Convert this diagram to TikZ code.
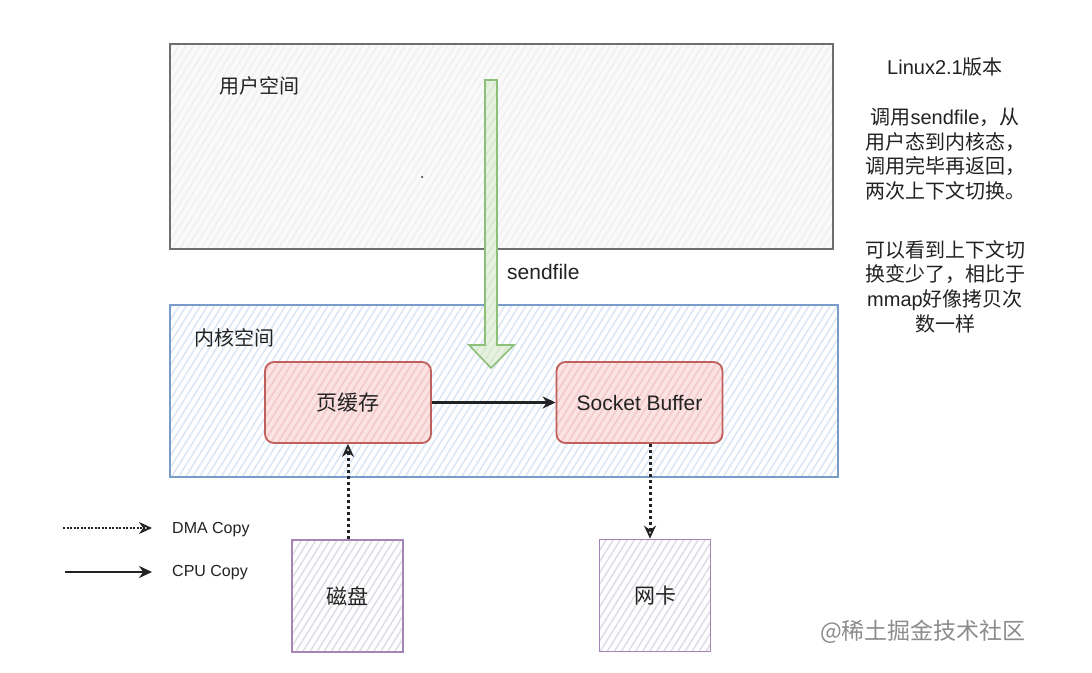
\documentclass[tikz,border=0pt]{standalone}
\usepackage{fontspec}
\setmainfont{Liberation Sans}
\newfontfamily\cjk{Noto Sans CJK SC}
\usetikzlibrary{arrows.meta,patterns.meta}
\definecolor{ustroke}{HTML}{6E6E6E}
\definecolor{ufill}{HTML}{FAFAFA}
\definecolor{uhatch}{HTML}{F1F1F1}
\definecolor{kstroke}{HTML}{7A9CC8}
\definecolor{khatch}{HTML}{DCE7F6}
\definecolor{rstroke}{HTML}{C0605C}
\definecolor{rfill}{HTML}{FBE3E3}
\definecolor{rhatch}{HTML}{F3C9C9}
\definecolor{pstroke}{HTML}{A486B6}
\definecolor{phatch}{HTML}{E0DEE6}
\definecolor{gstroke}{HTML}{8CC079}
\definecolor{gfill}{HTML}{E6F1E0}
\definecolor{txt}{HTML}{222222}
\tikzset{
  hfill/.style 2 args={preaction={fill=#1},preaction={pattern={Lines[angle=58,distance=6pt,line width=1.6pt]},pattern color=#2}},
  spacebox/.style={draw=#1,line width=1.6pt},
  redbox/.style={draw=rstroke,line width=1.8pt,rounded corners=9pt,hfill={rfill}{rhatch},
     minimum width=166pt,minimum height=81pt,inner sep=0pt,font=\fontsize{21}{24}\selectfont,text=txt},
  purpbox/.style={draw=pstroke,line width=1.8pt,hfill={white}{phatch},
     minimum width=111pt,minimum height=112pt,inner sep=0pt,font=\fontsize{21}{24}\selectfont,text=txt},
  lbl/.style={inner sep=0pt,text=txt},
  cpu/.style={-{Stealth[length=13pt,width=12pt]},line width=2.4pt,draw=txt},
  dma/.style={-{Stealth[length=13pt,width=12pt,open,line width=1.8pt]},line width=3pt,dash pattern=on 3pt off 3pt,draw=txt},
}
\begin{document}
\begin{tikzpicture}[x=1pt,y=-1pt]
\useasboundingbox (0,0) rectangle (1092,672);
\fill[white] (0,0) rectangle (1092,672);
% user space
\path[spacebox=ustroke,hfill={ufill}{uhatch}] (170,44) rectangle (833,249);
\node[lbl,anchor=west,font=\cjk\fontsize{20}{24}\selectfont] (user) at (219,86) {用户空间};
\fill[txt] (422,177) circle (1);
% kernel space
\path[spacebox=kstroke,hfill={white}{khatch}] (170,305) rectangle (838,477);
\node[lbl,anchor=west,font=\cjk\fontsize{20}{24}\selectfont] (kernel) at (194,338) {内核空间};
% green block arrow
\path[draw=gstroke,line width=1.6pt,hfill={gfill}{gstroke!35},line join=miter]
  (485,80) -- (497,80) -- (497,345) -- (514,345) -- (491,368) -- (469,345) -- (485,345) -- cycle;
\node[lbl,anchor=west,font=\fontsize{21}{24}\selectfont] (sendfile) at (507,272) {sendfile};
% kernel boxes
\node[redbox,font=\cjk\fontsize{21}{24}\selectfont] (page) at (348,402.5) {页缓存};
\node[redbox] (sock) at (639.5,402.5) {Socket Buffer};
% devices
\node[purpbox,font=\cjk\fontsize{21}{24}\selectfont] (disk) at (347.5,596) {磁盘};
\node[purpbox,font=\cjk\fontsize{21}{24}\selectfont] (nic) at (655,595.5) {网卡};
% connectors
\draw[cpu] (page.east) -- (sock.west);
\draw[dma] (disk.north -| 348,0) -- (page.south -| 348,0);
\draw[dma] (sock.south -| 650,0) -- (nic.north -| 650,0);
% legend
\coordinate (d1) at (63,528); \coordinate (d2) at (152,528);
\coordinate (c1) at (65,572); \coordinate (c2) at (152,572);
\draw[dma,line width=2.2pt,dash pattern=on 2pt off 1.5pt] (d1) -- (d2);
\draw[cpu,line width=2.2pt] (c1) -- (c2);
\node[lbl,anchor=west,font=\fontsize{16}{18}\selectfont] (ldma) at (172,530) {DMA Copy};
\node[lbl,anchor=west,font=\fontsize{16}{18}\selectfont] (lcpu) at (172,573) {CPU Copy};
% right notes
\node[lbl,font=\fontsize{20}{24}\selectfont] (title) at (945,67) {Linux2.1{\cjk 版本}};
\node[lbl,align=center,font=\fontsize{20}{24.7}\selectfont] (note1) at (945,154) {%
 {\cjk 调用}sendfile{\cjk ，从}\\{\cjk 用户态到内核态，}\\{\cjk 调用完毕再返回，}\\{\cjk 两次上下文切换。}};
\node[lbl,align=center,font=\fontsize{20}{24.7}\selectfont] (note2) at (945,286.5) {%
 {\cjk 可以看到上下文切}\\{\cjk 换变少了，相比于}\\mmap{\cjk 好像拷贝次}\\{\cjk 数一样}};
% watermark
\node[lbl,text=black!45,font=\cjk\fontsize{23}{26}\selectfont] (wm) at (923,632) {@稀土掘金技术社区};
\end{tikzpicture}
\end{document}
